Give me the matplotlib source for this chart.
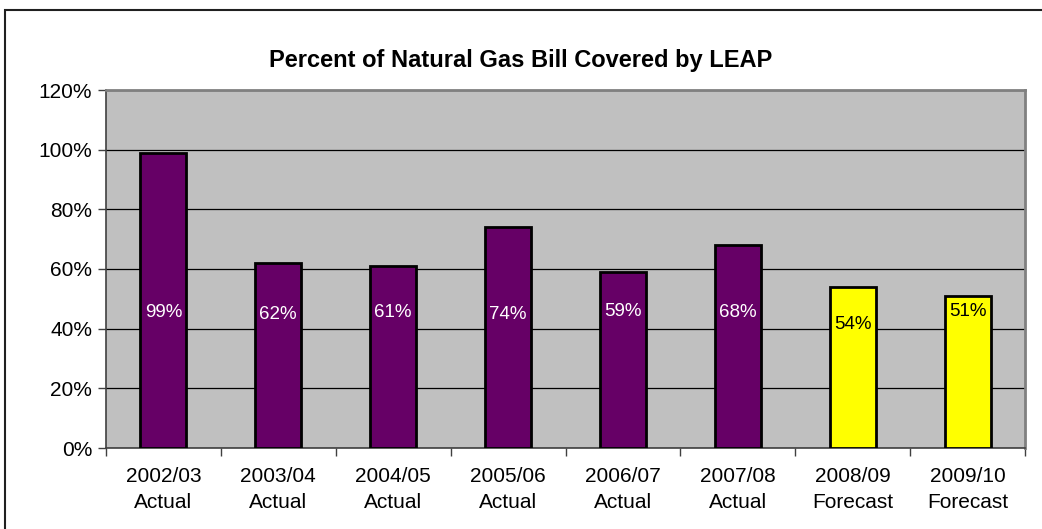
import matplotlib
matplotlib.use("Agg")
import matplotlib.pyplot as plt
from matplotlib.patches import Rectangle
from matplotlib.ticker import FixedLocator, PercentFormatter

plt.rcParams['font.family'] = ['Liberation Sans', 'DejaVu Sans']

categories = ["2002/03\nActual", "2003/04\nActual", "2004/05\nActual", "2005/06\nActual",
              "2006/07\nActual", "2007/08\nActual", "2008/09\nForecast", "2009/10\nForecast"]
values = [99, 62, 61, 74, 59, 68, 54, 51]
labels = ["99%", "62%", "61%", "74%", "59%", "68%", "54%", "51%"]
label_y = [45.3, 44.6, 45.3, 44.6, 45.6, 45.3, 41.3, 45.6]
bar_colors = ["#660066"] * 6 + ["#FFFF00"] * 2
label_colors = ["white"] * 6 + ["black"] * 2

W, H = 1042, 529
fig = plt.figure(figsize=(W / 100, H / 100), dpi=100)
ax = fig.add_axes([106 / W, 1 - 448 / H, (1025 - 106) / W, (448 - 90) / H])
ax.set_facecolor("#C0C0C0")

x = list(range(len(categories)))
ax.bar(x, values, width=0.4, color=bar_colors, edgecolor="black", linewidth=2, zorder=3)
for xi, ly, t, c in zip(x, label_y, labels, label_colors):
    ax.text(xi, ly, t, ha="center", va="center", color=c, fontsize=13.5, zorder=4)

ax.set_xlim(-0.5, len(categories) - 0.5)
ax.set_ylim(0, 120)
ax.yaxis.set_major_locator(FixedLocator(range(0, 121, 20)))
ax.yaxis.set_major_formatter(PercentFormatter(decimals=0))
ax.grid(axis="y", color="black", linewidth=0.9, zorder=1)
ax.set_axisbelow(True)

ax.set_xticks(x)
ax.set_xticklabels(categories, fontsize=15, linespacing=1.45)
ax.tick_params(axis="x", length=0, pad=14)
ax.set_xticks([i - 0.5 for i in range(len(categories) + 1)], minor=True)
ax.tick_params(axis="x", which="minor", length=6, width=1, color="#404040")
ax.tick_params(axis="y", length=6, width=1, color="#404040", labelsize=15, pad=4)

for side in ["top", "right"]:
    ax.spines[side].set_color("#808080")
    ax.spines[side].set_linewidth(2)
for side in ["left", "bottom"]:
    ax.spines[side].set_color("#404040")
    ax.spines[side].set_linewidth(1.2)

fig.text(0.5, 1 - 60 / H, "Percent of Natural Gas Bill Covered by LEAP",
         ha="center", va="center", fontsize=17, fontweight="bold")

fig.patches.append(Rectangle((5 / W, -0.1), 1.2, 1 - 10 / H + 0.1, transform=fig.transFigure,
                             fill=False, edgecolor="#202020", linewidth=1.5))

fig.savefig("out.png", dpi=100)
